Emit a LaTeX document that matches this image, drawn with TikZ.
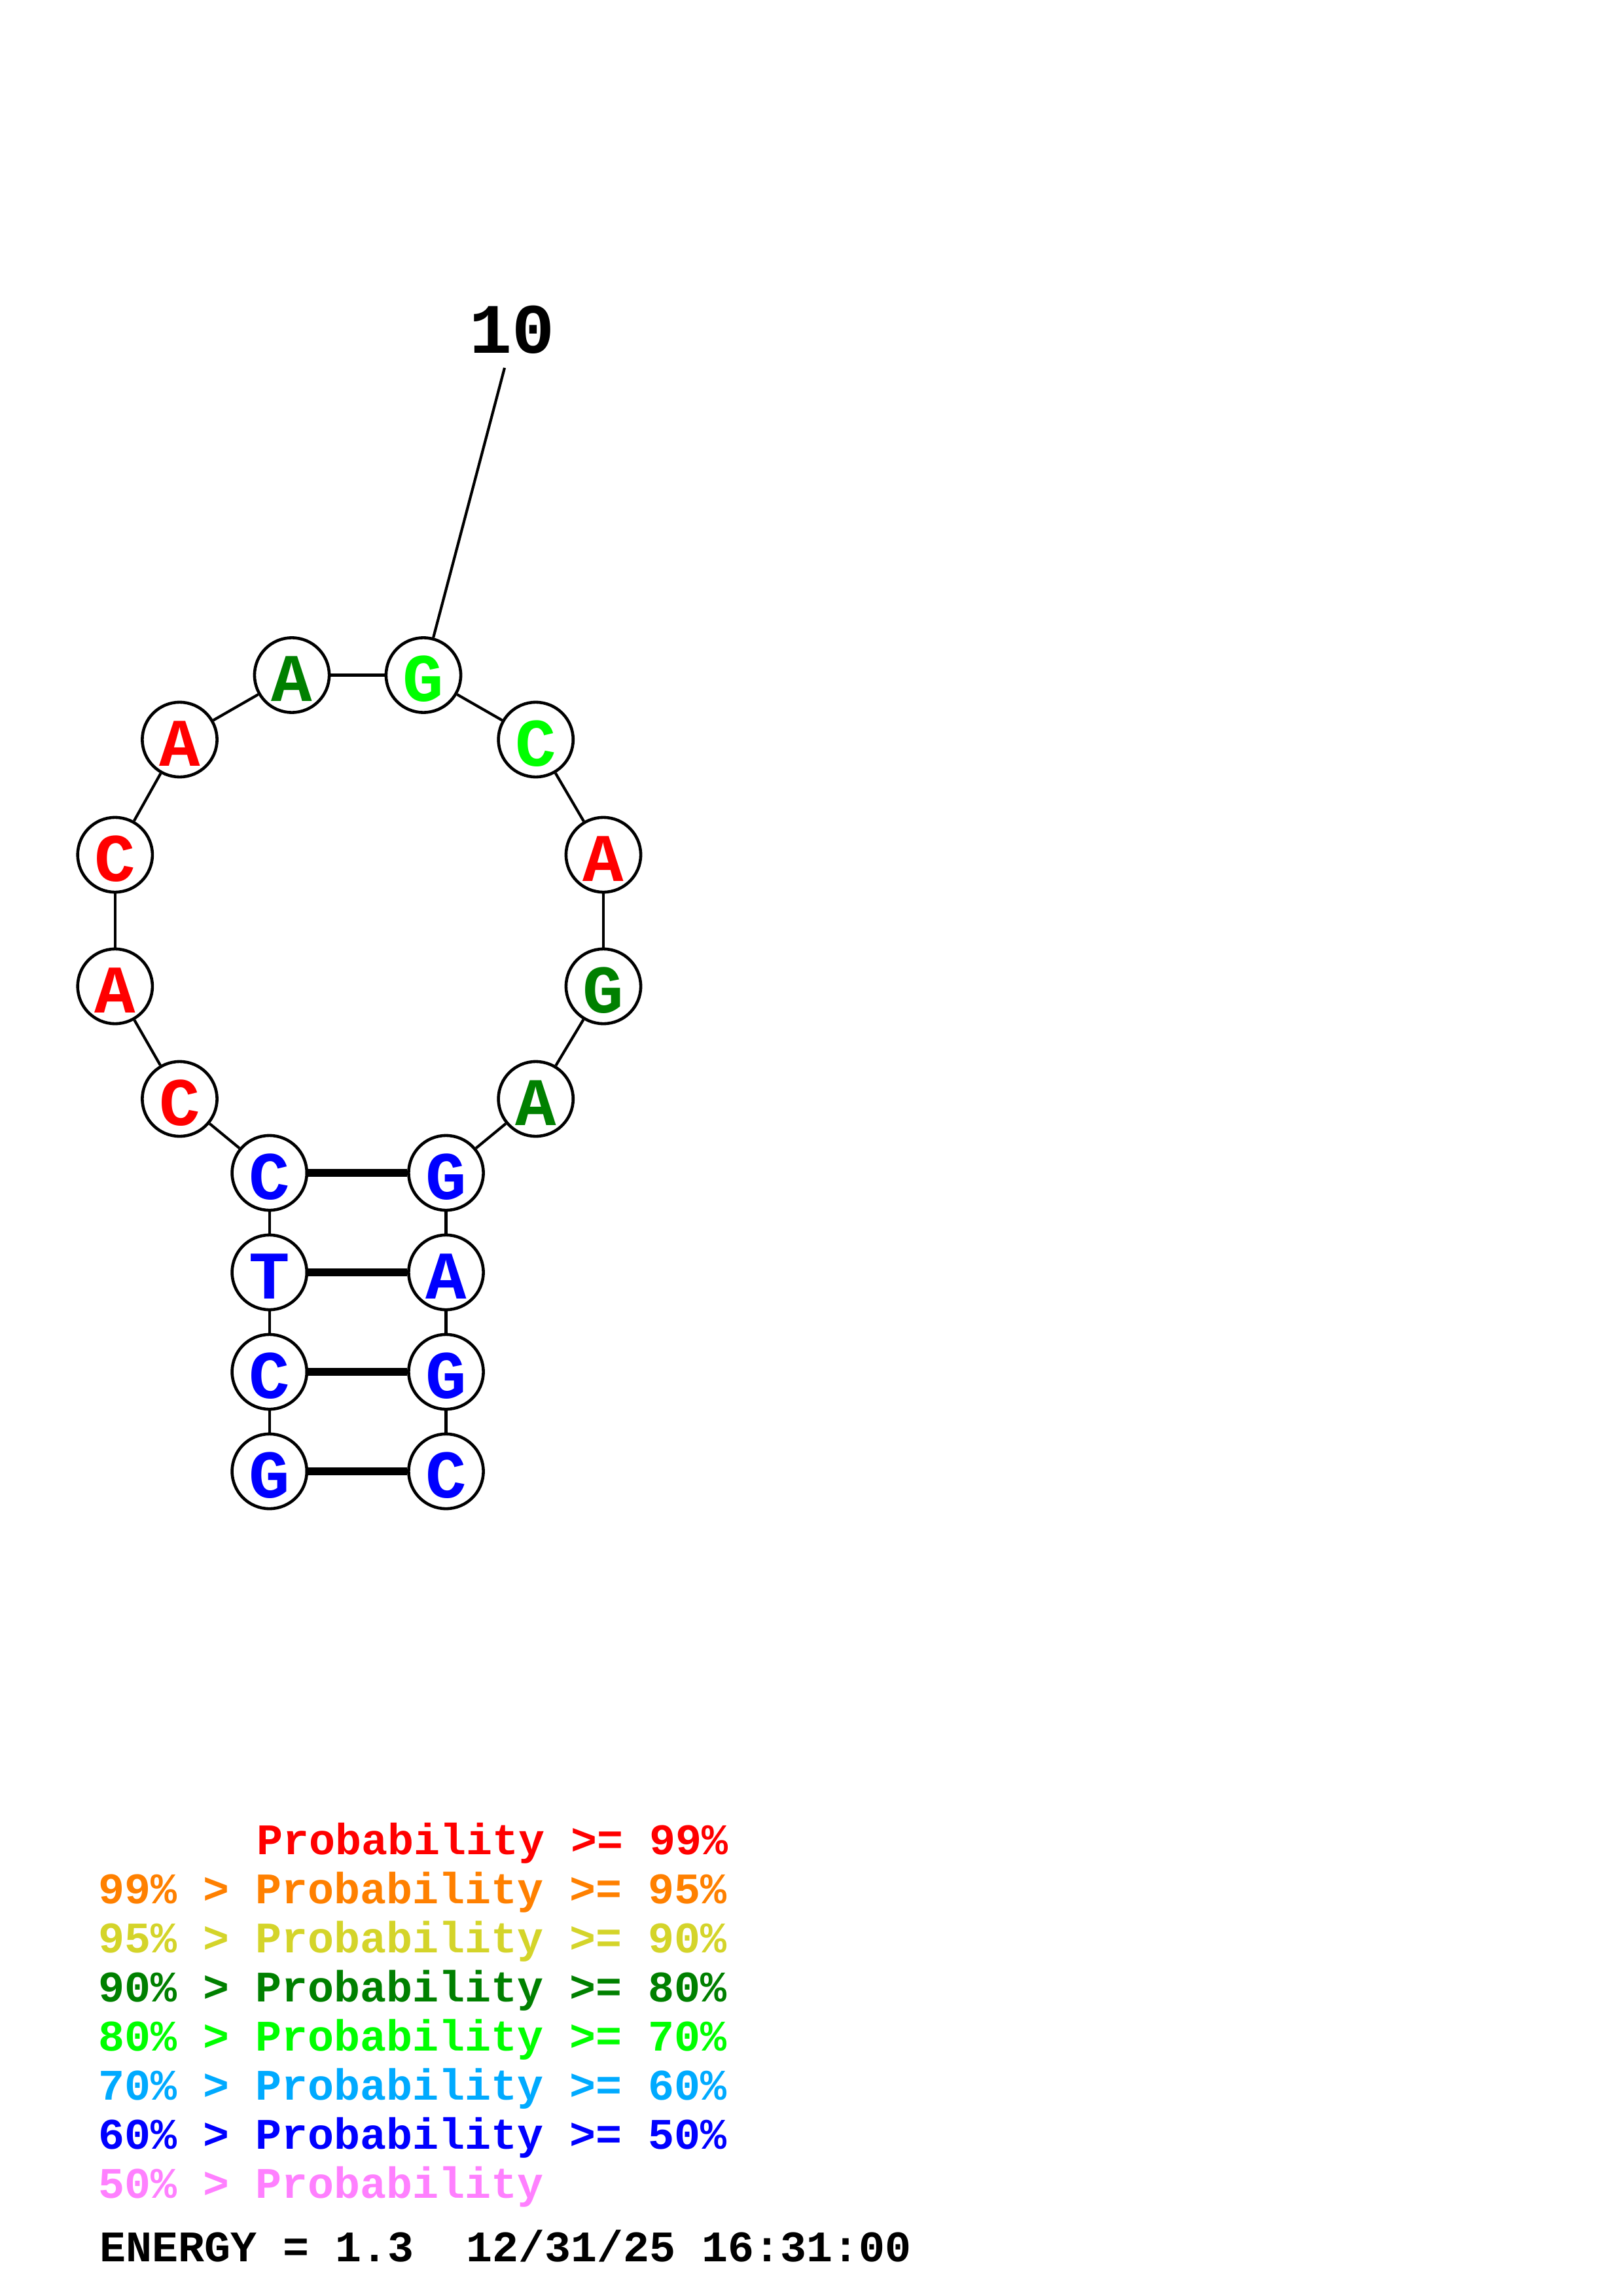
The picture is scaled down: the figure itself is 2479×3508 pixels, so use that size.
\documentclass[tikz,border=0pt]{standalone}
\usepackage{fontspec}
\setmonofont{Liberation Mono}
\usepackage{tikz}

\definecolor{prob99}{RGB}{255,0,0}
\definecolor{prob95}{RGB}{255,128,0}
\definecolor{prob90}{RGB}{212,212,42}
\definecolor{prob80}{RGB}{0,128,0}
\definecolor{prob70}{RGB}{0,255,0}
\definecolor{prob60}{RGB}{0,170,255}
\definecolor{prob50}{RGB}{0,0,255}
\definecolor{problow}{RGB}{255,128,255}

\newcommand{\basefont}{\ttfamily\bfseries\fontsize{25}{25}\selectfont}
\newcommand{\legfont}{\ttfamily\bfseries\fontsize{16}{16}\selectfont}

\begin{document}
\begin{tikzpicture}[x=0.24pt,y=-0.24pt,
    base/.style={circle,draw,fill=white,line width=1.1pt,minimum size=27.4pt,
      inner sep=0pt,font=\basefont,text height=19.4pt,text depth=0pt},
    bb/.style={line width=1pt},
    pair/.style={line width=2.7pt},
    leg/.style={anchor=base west,inner sep=0pt,font=\legfont}]
  \useasboundingbox (0,0) rectangle (2479,3508);

  \node[base,text=prob50] (n1) at (411.7,2248) {G};
  \node[base,text=prob50] (n2) at (411.7,2096) {C};
  \node[base,text=prob50] (n3) at (411.7,1944) {T};
  \node[base,text=prob50] (n4) at (411.7,1792) {C};
  \node[base,text=prob99] (n5) at (274.5,1679) {C};
  \node[base,text=prob99] (n6) at (175.8,1507) {A};
  \node[base,text=prob99] (n7) at (175.8,1306) {C};
  \node[base,text=prob99] (n8) at (274.5,1130) {A};
  \node[base,text=prob80] (n9) at (446,1031.5) {A};
  \node[base,text=prob70] (n10) at (647,1031.5) {G};
  \node[base,text=prob70] (n11) at (818.7,1130) {C};
  \node[base,text=prob99] (n12) at (922,1306) {A};
  \node[base,text=prob80] (n13) at (922,1507) {G};
  \node[base,text=prob80] (n14) at (818.7,1679) {A};
  \node[base,text=prob50] (n15) at (681.5,1792) {G};
  \node[base,text=prob50] (n16) at (681.5,1944) {A};
  \node[base,text=prob50] (n17) at (681.5,2096) {G};
  \node[base,text=prob50] (n18) at (681.5,2248) {C};

  \foreach \i [evaluate=\i as \j using int(\i+1)] in {1,...,17}
    \draw[bb] (n\i) -- (n\j);
  \foreach \i/\j in {1/18,2/17,3/16,4/15}
    \draw[pair] (n\i) -- (n\j);

  \node[anchor=base,inner sep=0pt,font=\ttfamily\bfseries\fontsize{26}{26}\selectfont] (num10) at (782,540) {10};
  \coordinate (tick10) at (771,562);
  \draw[bb] (n10) -- (tick10);

  \node[leg,text=prob99] (l99) at (392,2833) {Probability >= 99\%};
  \node[leg,text=prob95] (l95) at (150,2908) {99\% > Probability >= 95\%};
  \node[leg,text=prob90] (l90) at (150,2983) {95\% > Probability >= 90\%};
  \node[leg,text=prob80] (l80) at (150,3058) {90\% > Probability >= 80\%};
  \node[leg,text=prob70] (l70) at (150,3133) {80\% > Probability >= 70\%};
  \node[leg,text=prob60] (l60) at (150,3208) {70\% > Probability >= 60\%};
  \node[leg,text=prob50] (l50) at (150,3283) {60\% > Probability >= 50\%};
  \node[leg,text=problow] (l0) at (150,3358) {50\% > Probability};
  \node[leg] (energy) at (152,3455) {ENERGY = 1.3\ \ 12/31/25 16:31:00};
\end{tikzpicture}
\end{document}
